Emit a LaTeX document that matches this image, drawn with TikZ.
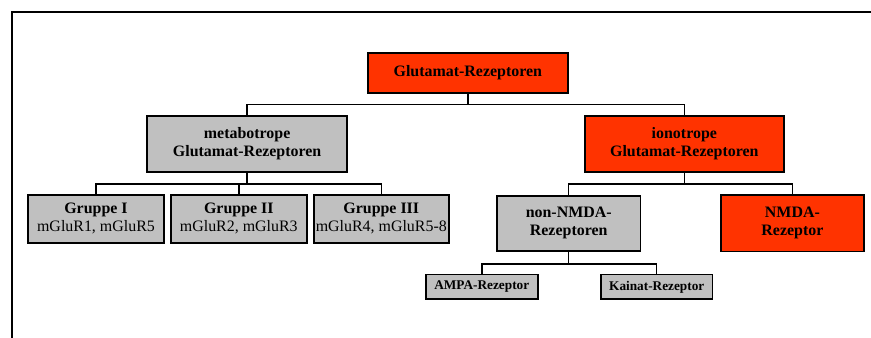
\documentclass[tikz,border=0pt]{standalone}
\usepackage{fontspec}
\setmainfont{Liberation Serif}
\definecolor{rezred}{RGB}{255,51,0}
\definecolor{rezgray}{RGB}{192,192,192}

\begin{document}
\begin{tikzpicture}[
        box/.style={rectangle, draw=black, line width=1.2pt, inner sep=1pt, align=center, font=\fontsize{12}{13.5}\selectfont\bfseries},
        redbox/.style={box, fill=rezred},
        graybox/.style={box, fill=rezgray},
        smallbox/.style={graybox, font=\fontsize{10}{11}\selectfont\bfseries},
        link/.style={draw=black, line width=1.1pt}
    ]
        \useasboundingbox (0,0) rectangle (23.05,-8.94);
        \draw[line width=1.5pt] (0.32,-8.94) -- (0.32,-0.32) -- (23.05,-0.32);
        \node[redbox, minimum width=5.29cm, minimum height=1.06cm] (glu) at (12.38,-1.93) {Glutamat-Rezeptoren};
        \node[graybox, minimum width=5.29cm, minimum height=1.48cm] (meta) at (6.54,-3.81) {metabotrope\\Glutamat-Rezeptoren};
        \node[redbox, minimum width=5.27cm, minimum height=1.48cm] (iono) at (18.11,-3.81) {ionotrope\\Glutamat-Rezeptoren};
        \node[graybox, minimum width=3.60cm, minimum height=1.27cm] (grp1) at (2.54,-5.79) {Gruppe I\\\mdseries mGluR1, mGluR5};
        \node[graybox, minimum width=3.60cm, minimum height=1.27cm] (grp2) at (6.32,-5.79) {Gruppe II\\\mdseries mGluR2, mGluR3};
        \node[graybox, minimum width=3.57cm, minimum height=1.27cm] (grp3) at (10.09,-5.79) {Gruppe III\\\mdseries mGluR4, mGluR5-8};
        \node[graybox, minimum width=3.79cm, minimum height=1.46cm] (nonnmda) at (15.05,-5.91) {non-NMDA-\\Rezeptoren};
        \node[redbox, minimum width=3.79cm, minimum height=1.50cm] (nmda) at (20.97,-5.91) {NMDA-\\Rezeptor};
        \node[smallbox, minimum width=2.96cm, minimum height=0.65cm] (ampa) at (12.75,-7.59) {AMPA-Rezeptor};
        \node[smallbox, minimum width=2.96cm, minimum height=0.65cm] (kainat) at (17.38,-7.59) {Kainat-Rezeptor};
        \draw[link] (glu.south) -- ++(0,-0.29) -| (meta.north);
        \draw[link] (glu.south) -- ++(0,-0.29) -| (iono.north);
        \draw[link] (meta.south) -- ++(0,-0.30) -| (grp1.north);
        \draw[link] (meta.south) -- ++(0,-0.30) -| (grp2.north);
        \draw[link] (meta.south) -- ++(0,-0.30) -| (grp3.north);
        \draw[link] (iono.south) -- ++(0,-0.30) -| (nonnmda.north);
        \draw[link] (iono.south) -- ++(0,-0.30) -| (nmda.north);
        \draw[link] (nonnmda.south) -- ++(0,-0.325) -| (ampa.north);
        \draw[link] (nonnmda.south) -- ++(0,-0.325) -| (kainat.north);
    \end{tikzpicture}
\end{document}
